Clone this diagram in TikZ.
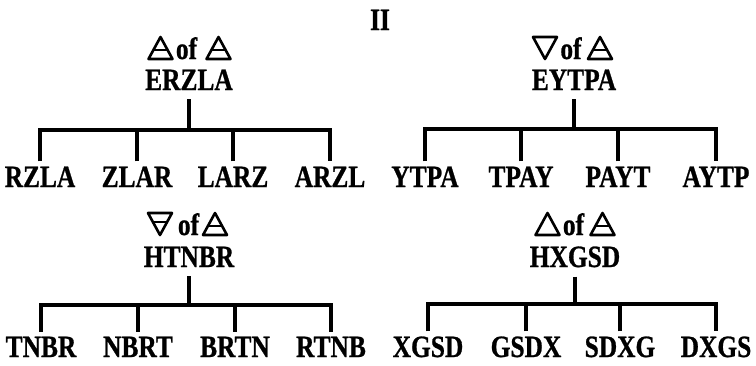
\documentclass[tikz,border=0pt]{standalone}
\usepackage{fontspec}
\setmainfont{Liberation Serif}[FakeStretch=0.82, BoldFeatures={FakeBold=0.8}]

\begin{document}
\begin{tikzpicture}[x=1pt,y=-1pt,
  word/.style={font=\fontsize{31}{32}\selectfont\bfseries, inner sep=0pt, anchor=base},
  root/.style={word, inner ysep=9pt},
  leaf/.style={word},
  branch/.style={line width=3.2pt},
  twig/.style={branch, shorten <=5pt},
  limb/.style={twig, shorten >=5pt},
  glyph/.style={line width=2.6pt, line join=round},
  fire/.pic={\draw[glyph] (-12,11) -- (0,-11) -- (12,11) -- cycle;},
  air/.pic={\draw[glyph] (-12,11) -- (0,-11) -- (12,11) -- cycle;
    \draw[glyph] (-7,2) -- (7,2);},
  water/.pic={\draw[glyph] (-12,-11) -- (12,-11) -- (0,11) -- cycle;},
  earth/.pic={\draw[glyph] (-12,-11) -- (12,-11) -- (0,11) -- cycle;
    \draw[glyph] (-7,-2) -- (7,-2);}]
\useasboundingbox (0,0) rectangle (756,365);
\node[word] (title) at (380,30) {II};
\pic at (160.5,48) {air};
\node[word] (ofa) at (186.5,59) {of};
\pic at (218.5,48) {air};
\node[root] (erzla) at (189,90) {ERZLA};
\node[leaf] (rzla) at (40,187) {RZLA};
\node[leaf] (zlar) at (137,187) {ZLAR};
\node[leaf] (larz) at (233,187) {LARZ};
\node[leaf] (arzl) at (330,187) {ARZL};
\coordinate (erzlaj) at (189,130);
\draw[branch] (erzla) -- (erzlaj);
\draw[limb] (rzla) |- (erzlaj) -| (arzl);
\draw[twig] (zlar) -- (zlar |- erzlaj);
\draw[twig] (larz) -- (larz |- erzlaj);
\pic at (545,48) {water};
\node[word] (ofb) at (571,59) {of};
\pic at (600,48) {air};
\node[root] (eytpa) at (574,90) {EYTPA};
\node[leaf] (ytpa) at (425,187) {YTPA};
\node[leaf] (tpay) at (521,187) {TPAY};
\node[leaf] (payt) at (618,187) {PAYT};
\node[leaf] (aytp) at (716,187) {AYTP};
\coordinate (eytpaj) at (574,129);
\draw[branch] (eytpa) -- (eytpaj);
\draw[limb] (ytpa) |- (eytpaj) -| (aytp);
\draw[twig] (tpay) -- (tpay |- eytpaj);
\draw[twig] (payt) -- (payt |- eytpaj);
\pic at (160,224) {earth};
\node[word] (ofc) at (188.5,235) {of};
\pic at (215,224) {air};
\node[root] (htnbr) at (189,267) {HTNBR};
\node[leaf] (tnbr) at (41,357) {TNBR};
\node[leaf] (nbrt) at (138,357) {NBRT};
\node[leaf] (brtn) at (235,357) {BRTN};
\node[leaf] (rtnb) at (331,357) {RTNB};
\coordinate (htnbrj) at (189,305);
\draw[branch] (htnbr) -- (htnbrj);
\draw[limb] (tnbr) |- (htnbrj) -| (rtnb);
\draw[twig] (nbrt) -- (nbrt |- htnbrj);
\draw[twig] (brtn) -- (brtn |- htnbrj);
\pic at (547.5,224) {fire};
\node[word] (ofd) at (573.5,235) {of};
\pic at (602.5,224) {air};
\node[root] (hxgsd) at (575,267) {HXGSD};
\node[leaf] (xgsd) at (428,357) {XGSD};
\node[leaf] (gsdx) at (526,357) {GSDX};
\node[leaf] (sdxg) at (620,357) {SDXG};
\node[leaf] (dxgs) at (716,357) {DXGS};
\coordinate (hxgsdj) at (575,304);
\draw[branch] (hxgsd) -- (hxgsdj);
\draw[limb] (xgsd) |- (hxgsdj) -| (dxgs);
\draw[twig] (gsdx) -- (gsdx |- hxgsdj);
\draw[twig] (sdxg) -- (sdxg |- hxgsdj);
\end{tikzpicture}
\end{document}
